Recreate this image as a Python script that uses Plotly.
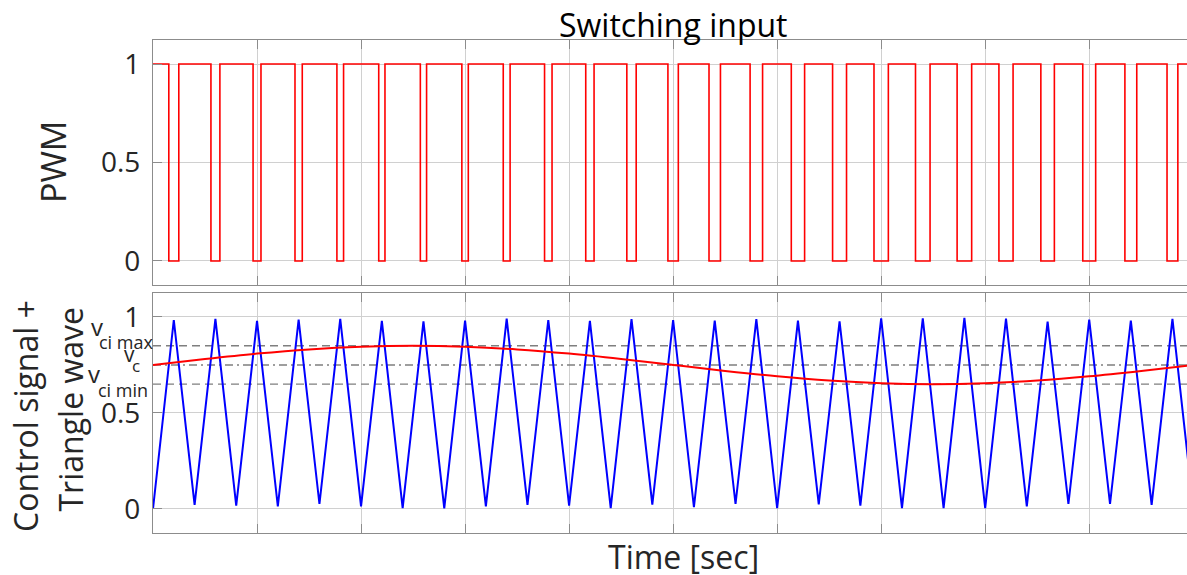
import plotly.graph_objects as go

# ---------------- data (time in grid units) ----------------
tri_peak_t = [0.2, 0.6, 1.0, 1.4, 1.8, 2.2, 2.6, 3.0, 3.4, 3.8, 4.2, 4.6, 5.0,
              5.4, 5.8, 6.2, 6.6, 7.0, 7.4, 7.8, 8.2, 8.6, 9.0, 9.4, 9.8]
tri_peak_v = [0.984, 0.990, 0.979, 0.986, 0.990, 0.979, 0.977, 0.981, 0.991, 0.984, 0.979, 0.988,
              0.984, 0.981, 0.988, 0.981, 0.977, 0.993, 0.993, 0.995, 0.991, 0.976, 0.986, 0.981, 0.990]
tri_valley_t = [0.4, 0.8, 1.2, 1.6, 2.0, 2.4, 2.8, 3.2, 3.6, 4.0, 4.4, 4.8,
                5.2, 5.6, 6.0, 6.4, 6.8, 7.2, 7.6, 8.0, 8.4, 8.8, 9.2, 9.6, 10.0]
tri_valley_v = [0.021, 0.017, 0.014, 0.026, 0.014, 0.005, 0.003, 0.014, 0.021, 0.017, 0.005, 0.023,
                0.009, 0.026, 0.005, 0.024, 0.017, 0.005, 0.005, 0.005, 0.014, 0.026, 0.026, 0.021, 0.010]

ctrl_t = [0.0, 0.5, 1.0, 1.5, 2.0, 2.5, 3.0, 3.5, 4.0, 4.5, 5.0,
          5.5, 6.0, 6.5, 7.0, 7.5, 8.0, 8.5, 9.0, 9.5, 10.0]
ctrl_v = [0.750, 0.781, 0.809, 0.831, 0.845, 0.850, 0.845, 0.831, 0.809, 0.781, 0.750,
          0.719, 0.691, 0.669, 0.655, 0.650, 0.655, 0.669, 0.691, 0.719, 0.750]

pwm_fall = [0.152, 0.557, 0.962, 1.365, 1.768, 2.170, 2.570, 2.969, 3.367, 3.764, 4.160, 4.555,
            4.950, 5.345, 5.740, 6.136, 6.533, 6.931, 7.330, 7.730, 8.132, 8.535, 8.938, 9.343, 9.748]
pwm_rise = [0.248, 0.643, 1.038, 1.435, 1.832, 2.230, 2.630, 3.031, 3.433, 3.836, 4.240, 4.645,
            5.050, 5.455, 5.860, 6.264, 6.667, 7.069, 7.470, 7.870, 8.268, 8.665, 9.062, 9.457, 9.852]

level_base = ["v", "v", "v"]
level_sub = ["ci max", "c", "ci min"]
level_values = [0.85, 0.75, 0.65]
level_dash = ["8px,5px", "8px,4px,2px,4px", "8px,5px"]

x_end = 9.94
y_ticks = [0, 0.5, 1]
y_tick_text = ["0", "0.5", "1"]
x_grid = [0, 1, 2, 3, 4, 5, 6, 7, 8, 9]

# ---------------- build series ----------------
tri_x = [0.0]
tri_y = [0.0]
for tp, vp, tv, vv in zip(tri_peak_t, tri_peak_v, tri_valley_t, tri_valley_v):
    tri_x += [tp, tv]
    tri_y += [vp, vv]

pwm_x = [0.0]
pwm_y = [1]
for f, r in zip(pwm_fall, pwm_rise):
    pwm_x += [f, r]
    pwm_y += [0, 1]
pwm_x.append(x_end)
pwm_y.append(1)

FONT = "Open Sans"
TXT = "#262626"

fig = go.Figure()

fig.add_trace(go.Scatter(x=pwm_x, y=pwm_y, mode="lines", line=dict(color="#ff0000", width=1.6, shape="hv"),
                         xaxis="x", yaxis="y", showlegend=False))

for v, d in zip(level_values, level_dash):
    fig.add_trace(go.Scatter(x=[0, x_end], y=[v, v], mode="lines",
                             line=dict(color="#7f7f7f", width=1.4, dash=d),
                             xaxis="x2", yaxis="y2", showlegend=False))

fig.add_trace(go.Scatter(x=tri_x, y=tri_y, mode="lines", line=dict(color="#0000ff", width=2),
                         xaxis="x2", yaxis="y2", showlegend=False))
fig.add_trace(go.Scatter(x=ctrl_t, y=ctrl_v, mode="lines", line=dict(color="#ff0000", width=2, shape="spline"),
                         xaxis="x2", yaxis="y2", showlegend=False))

xcommon = dict(range=[0, x_end], tickvals=x_grid, showticklabels=False, showgrid=True,
               gridcolor="#d0d0d0", gridwidth=1, zeroline=False, showline=True, linecolor="#8c8c8c",
               linewidth=1.2, mirror="ticks", ticks="inside", ticklen=9, tickcolor="#8c8c8c")
ycommon = dict(tickvals=y_ticks, ticktext=y_tick_text, showgrid=True, gridcolor="#d0d0d0", gridwidth=1,
               zeroline=False, showline=True, linecolor="#8c8c8c", linewidth=1.2, ticks="inside",
               ticklen=9, tickcolor="#8c8c8c", tickfont=dict(family=FONT, size=28, color=TXT),
               ticklabelstandoff=6)

fig.update_layout(
    width=1187, height=575,
    margin=dict(l=153, r=0, t=40, b=42),
    paper_bgcolor="white", plot_bgcolor="white",
    xaxis=dict(anchor="y", domain=[0, 1], **xcommon),
    xaxis2=dict(anchor="y2", domain=[0, 1], **xcommon),
    yaxis=dict(anchor="x", domain=[0.503, 1], range=[-0.122, 1.122], **ycommon),
    yaxis2=dict(anchor="x2", domain=[0, 0.487], range=[-0.125, 1.125], **ycommon),
)


def px(xp):
    return (xp - 153) / 1034


def py(yp):
    return (533 - yp) / 493


ann = []
ann.append(dict(text="Switching input", x=px(672.5), y=py(24), xref="paper", yref="paper",
                xanchor="center", yanchor="middle", showarrow=False,
                font=dict(family=FONT, size=32, color="#000000")))
ann.append(dict(text="PWM", x=px(53), y=py(162), xref="paper", yref="paper", textangle=-90,
                xanchor="center", yanchor="middle", showarrow=False,
                font=dict(family=FONT, size=34, color=TXT)))
ann.append(dict(text="Control signal +", x=px(25), y=py(416), xref="paper", yref="paper",
                textangle=-90, xanchor="center", yanchor="middle", showarrow=False,
                font=dict(family=FONT, size=32, color=TXT)))
ann.append(dict(text="Triangle wave", x=px(69.5), y=py(410), xref="paper", yref="paper",
                textangle=-90, xanchor="center", yanchor="middle", showarrow=False,
                font=dict(family=FONT, size=32, color=TXT)))
ann.append(dict(text="Time [sec]", x=px(683), y=py(556), xref="paper", yref="paper",
                xanchor="center", yanchor="middle", showarrow=False,
                font=dict(family=FONT, size=32, color=TXT)))

# level labels: base letter and subscript placed separately
v_cx = [97, 129, 94]
v_cy = [326, 354, 373]
v_sz = [24, 21, 24]
s_lx = [98, 131, 97]
s_cy = [342, 365, 390]
s_sz = [18, 17, 18]
for b, s, a1, b1, c1, a2, b2, c2 in zip(level_base, level_sub, v_cx, v_cy, v_sz, s_lx, s_cy, s_sz):
    ann.append(dict(text=b, x=px(a1), y=py(b1), xref="paper", yref="paper",
                    xanchor="center", yanchor="middle", showarrow=False, borderpad=0,
                    font=dict(family=FONT, size=c1, color=TXT)))
    ann.append(dict(text=s, x=px(a2), y=py(b2), xref="paper", yref="paper",
                    xanchor="left", yanchor="middle", showarrow=False, borderpad=0,
                    font=dict(family=FONT, size=c2, color=TXT)))

fig.update_layout(annotations=ann)

fig.write_html("out.html")
